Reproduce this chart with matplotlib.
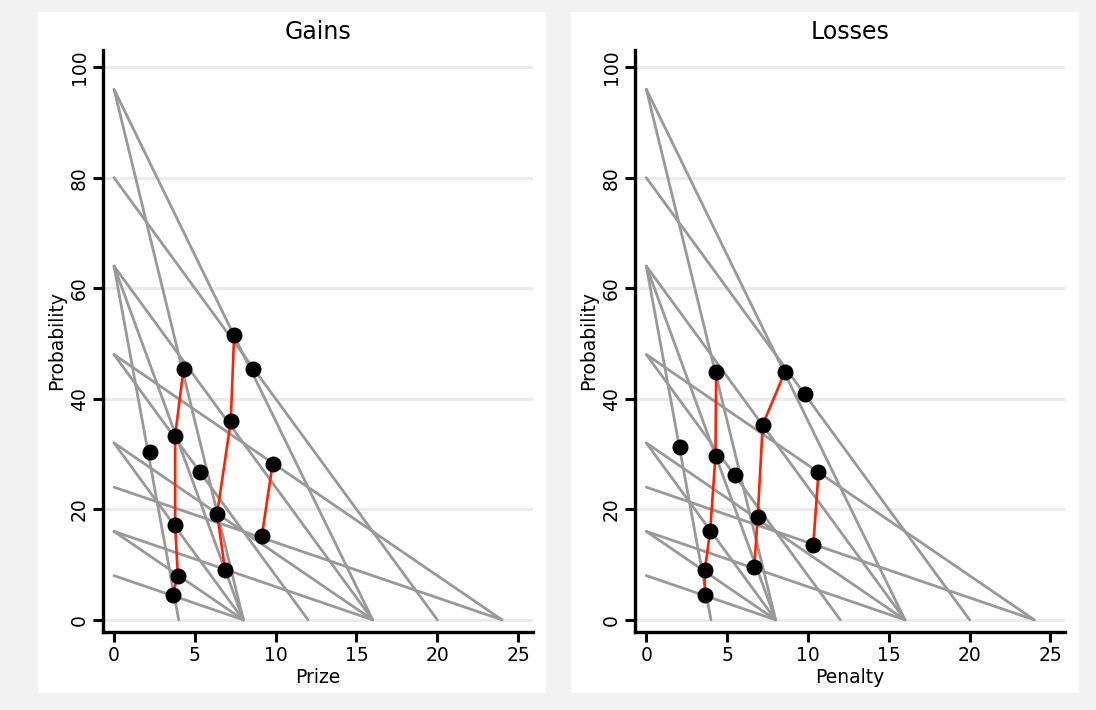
import numpy as np
import matplotlib
matplotlib.use("Agg")
import matplotlib.pyplot as plt
from matplotlib.patches import Rectangle

# budget lines: probability intercept -> prize intercept
linha_prob = [96, 96, 80, 64, 64, 64, 48, 48, 32, 32, 24, 16, 16, 8]
linha_premio = [8, 16, 20, 4, 8, 16, 12, 24, 8, 16, 24, 8, 16, 8]

# Gains: chosen points, grouped in red chains
ganho_cadeias_x = [[4.30, 3.78, 3.78, 3.95, 3.62],
                   [7.43, 7.22, 6.38, 6.87],
                   [9.81, 9.14]]
ganho_cadeias_y = [[45.4, 33.3, 17.1, 8.0, 4.5],
                   [51.5, 35.9, 19.2, 9.0],
                   [28.2, 15.1]]
ganho_soltos_x = [2.24, 5.33, 8.60]
ganho_soltos_y = [30.3, 26.7, 45.4]

# Losses
perda_cadeias_x = [[4.32, 4.28, 3.95, 3.62, 3.62],
                   [8.58, 7.20, 6.89, 6.68],
                   [10.65, 10.33]]
perda_cadeias_y = [[44.9, 29.7, 16.1, 9.0, 4.5],
                   [44.9, 35.3, 18.6, 9.5],
                   [26.7, 13.6]]
perda_soltos_x = [2.06, 5.49, 9.81]
perda_soltos_y = [31.3, 26.2, 40.8]

x_ticks = [0, 5, 10, 15, 20, 25]
y_ticks = [0, 20, 40, 60, 80, 100]

W, H = 1096, 710
fig = plt.figure(figsize=(W / 100, H / 100), dpi=100)
fig.patch.set_facecolor("#f2f2f2")

# white graph regions behind each panel
for x0 in (38, 571):
    fig.patches.append(Rectangle((x0 / W, 17 / H), 508 / W, 681 / H,
                                 transform=fig.transFigure,
                                 facecolor="white", edgecolor="none", zorder=-5))


def painel(ax, titulo, rotulo_x, cad_x, cad_y, solto_x, solto_y):
    ax.set_facecolor("white")
    for yt in y_ticks:
        ax.axhline(yt, color="#ebebeb", lw=2.3, zorder=1)
    for p, m in zip(linha_prob, linha_premio):
        ax.plot([0, m], [p, 0], color="#999999", lw=2.0, zorder=2,
                solid_capstyle="round")
    for cx, cy in zip(cad_x, cad_y):
        ax.plot(cx, cy, color="#ff2200", lw=1.9, zorder=3)
        ax.plot(cx, cy, "o", color="black", ms=10.5, zorder=4)
    ax.plot(solto_x, solto_y, "o", color="black", ms=10.5, zorder=4)

    ax.set_xlim(-0.7, 25.9)
    ax.set_ylim(-2.2, 103.1)
    ax.set_xticks(x_ticks)
    ax.set_yticks(y_ticks)
    ax.set_yticklabels([str(v) for v in y_ticks], rotation=90, va="center")
    ax.tick_params(axis="both", direction="out", length=7, width=2.2,
                   labelsize=13.5, colors="black", pad=3)
    for s in ("top", "right"):
        ax.spines[s].set_visible(False)
    for s in ("left", "bottom"):
        ax.spines[s].set_linewidth(2.4)
    ax.set_title(titulo, fontsize=17, pad=8)
    ax.set_xlabel(rotulo_x, fontsize=13.5, labelpad=2)
    ax.set_ylabel("Probability", fontsize=13.5, labelpad=3)


ax1 = fig.add_axes([102.7 / W, 78 / H, 430 / W, 582 / H])
ax2 = fig.add_axes([635 / W, 78 / H, 430 / W, 582 / H])
painel(ax1, "Gains", "Prize", ganho_cadeias_x, ganho_cadeias_y,
       ganho_soltos_x, ganho_soltos_y)
painel(ax2, "Losses", "Penalty", perda_cadeias_x, perda_cadeias_y,
       perda_soltos_x, perda_soltos_y)

fig.savefig("out.png", dpi=100, facecolor=fig.get_facecolor())
